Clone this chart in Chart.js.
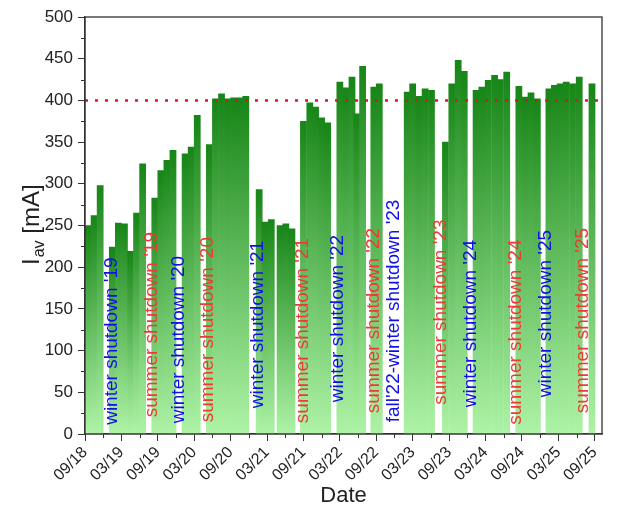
<!DOCTYPE html>
<html>
<head>
<meta charset="utf-8">
<script src="https://cdn.jsdelivr.net/npm/chart.js@4"></script>
<style>
  html, body { margin: 0; padding: 0; background: #fff; }
  #wrap { width: 619px; height: 515px; position: relative; }
</style>
</head>
<body>
<div id="wrap"><canvas id="chart"></canvas></div>
<script>
/* ======================================
   DATA  (x = months since 09/2018)
====================================== */
const barMonths = [
  0.5, 1.5, 2.5,
  4.5, 5.5, 6.5, 7.5, 8.5, 9.5,
  11.5, 12.5, 13.5, 14.5,
  16.5, 17.5, 18.5,
  20.5, 21.5, 22.5, 23.5, 24.5, 25.5, 26.5,
  28.7, 29.65, 30.7,
  32.15, 33.1, 34.1,
  36.0, 37.05, 38.0, 39.0, 40.0,
  42.0, 43.05, 44.0, 44.8, 45.75,
  47.6, 48.5,
  53.1, 54.0, 55.0, 56.05, 57.1,
  59.4, 60.45, 61.5, 62.5,
  64.45, 65.4, 66.45, 67.5, 68.45, 69.5,
  71.5, 72.5, 73.5, 74.55,
  76.45, 77.35, 78.3, 79.3, 80.35, 81.45,
  83.55
];

const barValues = [
  250, 262, 298,
  224, 253, 252, 219, 265, 324,
  283, 316, 328, 340,
  336, 344, 382,
  347, 402, 408, 402, 403, 403, 405,
  293, 254, 257,
  250, 252, 246,
  375, 397, 392, 379, 373,
  422, 415, 428, 384, 441,
  416, 420,
  410, 420, 405, 414, 412,
  350, 420, 448, 435,
  412, 416, 424, 430, 425, 434,
  417, 404, 409, 402,
  414, 418, 420, 422, 420, 428,
  420
];

const tickLabels = [
  "09/18", "03/19", "09/19", "03/20", "09/20", "03/21", "09/21", "03/22",
  "09/22", "03/23", "09/23", "03/24", "09/24", "03/25", "09/25"
];

const targetCurrent = 400;

const shutdownText = [
  "winter shutdown '19", "summer shutdown '19", "winter shutdown '20",
  "summer shutdown '20", "winter shutdown '21", "summer shutdown '21",
  "winter shutdown '22", "summer shutdown '22", "fall'22-winter shutdown '23",
  "summer shutdown '23", "winter shutdown '24", "summer shutdown '24",
  "winter shutdown '25", "summer shutdown '25"
];
const shutdownKind = ["w", "s", "w", "s", "w", "s", "w", "s", "w", "s", "w", "s", "w", "s"];
// anchor of each label: month (text baseline) and current where the text starts
const shutdownMonth = [5.2, 11.85, 16.3, 21.1, 29.3, 36.7, 42.5, 48.4, 51.7, 59.45, 64.4, 71.8, 76.8, 82.9];
const shutdownStart = [11, 20, 13, 14, 31, 13, 38, 25, 14, 35, 32, 11, 44, 25];


/* ======================================
   STYLE
====================================== */
const FONT = "'Liberation Sans', Arial, sans-serif";
const AXIS = "#333";
const X_MAX = 85.2;

function barFill(ctx) {
  if (ctx.type !== "data") return "#168216";
  const chart = ctx.chart;
  if (!chart.chartArea) return "#168216";
  const y = chart.scales.y;
  const top = y.getPixelForValue(ctx.raw.y);
  const bottom = y.getPixelForValue(0);
  const g = chart.ctx.createLinearGradient(0, top, 0, bottom);
  g.addColorStop(0, "#178517");
  g.addColorStop(1, "#aef3a6");
  return g;
}


/* ======================================
   EXTRA DRAWING (frame, minor ticks, labels)
====================================== */
const extras = {
  id: "extras",
  afterDatasetsDraw(chart) {
    const { ctx, scales } = chart;
    const xs = scales.x, ys = scales.y;

    // shutdown labels
    ctx.save();
    ctx.font = "19px " + FONT;
    ctx.textAlign = "left";
    ctx.textBaseline = "alphabetic";
    shutdownText.forEach((t, i) => {
      const px = xs.getPixelForValue(shutdownMonth[i]);
      const py = ys.getPixelForValue(shutdownStart[i]);
      ctx.save();
      ctx.translate(px, py);
      ctx.rotate(-Math.PI / 2);
      ctx.fillStyle = shutdownKind[i] === "w" ? "#1010e6" : "#ee3a32";
      ctx.fillText(t, 0, 0);
      ctx.restore();
    });
    ctx.restore();
  },
  afterDraw(chart) {
    const { ctx, chartArea: a, scales } = chart;
    const xs = scales.x, ys = scales.y;

    ctx.save();
    ctx.strokeStyle = AXIS;
    ctx.lineWidth = 1.3;
    ctx.strokeRect(a.left, a.top, a.right - a.left, a.bottom - a.top);

    // minor ticks
    ctx.lineWidth = 1;
    ctx.beginPath();
    for (let m = 3; m < X_MAX; m += 6) {
      const px = Math.round(xs.getPixelForValue(m)) + 0.5;
      ctx.moveTo(px, a.bottom);
      ctx.lineTo(px, a.bottom + 4);
    }
    for (let v = 25; v < 500; v += 50) {
      const py = Math.round(ys.getPixelForValue(v)) + 0.5;
      ctx.moveTo(a.left, py);
      ctx.lineTo(a.left - 4, py);
    }
    ctx.stroke();

    // y title with subscript
    ctx.fillStyle = "#222";
    ctx.translate(39, 265);
    ctx.rotate(-Math.PI / 2);
    ctx.textBaseline = "alphabetic";
    ctx.textAlign = "left";
    ctx.font = "24px " + FONT;
    ctx.fillText("I", 0, 0);
    let w = ctx.measureText("I").width + 1;
    ctx.font = "16px " + FONT;
    ctx.fillText("av", w, 5);
    w += ctx.measureText("av").width;
    ctx.font = "24px " + FONT;
    ctx.fillText(" [mA]", w, 0);
    ctx.restore();
  }
};


/* ======================================
   CHART
====================================== */
new Chart(document.getElementById("chart"), {
  type: "bar",
  data: {
    datasets: [
      {
        type: "bar",
        data: barMonths.map((m, i) => ({ x: m, y: barValues[i] })),
        backgroundColor: barFill,
        borderWidth: 0,
        barThickness: 6.1,
        order: 2
      },
      {
        type: "line",
        data: [{ x: 0, y: targetCurrent }, { x: X_MAX, y: targetCurrent }],
        borderColor: "#e8101a",
        borderWidth: 2.5,
        borderDash: [3, 7],
        pointRadius: 0,
        order: 1
      }
    ]
  },
  options: {
    responsive: true,
    maintainAspectRatio: false,
    animation: false,
    layout: { padding: { top: 17, right: 17, left: 0, bottom: 0 } },
    plugins: {
      legend: { display: false },
      tooltip: { enabled: false }
    },
    scales: {
      x: {
        type: "linear",
        offset: false,
        min: 0,
        max: X_MAX,
        afterFit(scale) { scale.height = 81; },
        afterBuildTicks(scale) {
          scale.ticks = tickLabels.map((_, i) => ({ value: i * 6 }));
        },
        ticks: {
          autoSkip: false,
          minRotation: 45,
          maxRotation: 45,
          padding: 2,
          color: "#222",
          font: { family: FONT, size: 16 },
          callback: v => tickLabels[Math.round(v / 6)]
        },
        grid: { offset: false, drawOnChartArea: false, tickLength: 7, color: AXIS, lineWidth: 1 },
        border: { color: AXIS, width: 1.3 },
        title: {
          display: true,
          text: "Date",
          color: "#222",
          font: { family: FONT, size: 22 },
          padding: { top: 0, bottom: 6 }
        }
      },
      y: {
        min: 0,
        max: 500,
        afterFit(scale) { scale.width = 85; },
        ticks: {
          stepSize: 50,
          padding: 5,
          color: "#222",
          font: { family: FONT, size: 17 }
        },
        grid: { drawOnChartArea: false, tickLength: 7, color: AXIS, lineWidth: 1 },
        border: { color: AXIS, width: 1.3 }
      }
    }
  },
  plugins: [extras]
});
</script>
</body>
</html>
